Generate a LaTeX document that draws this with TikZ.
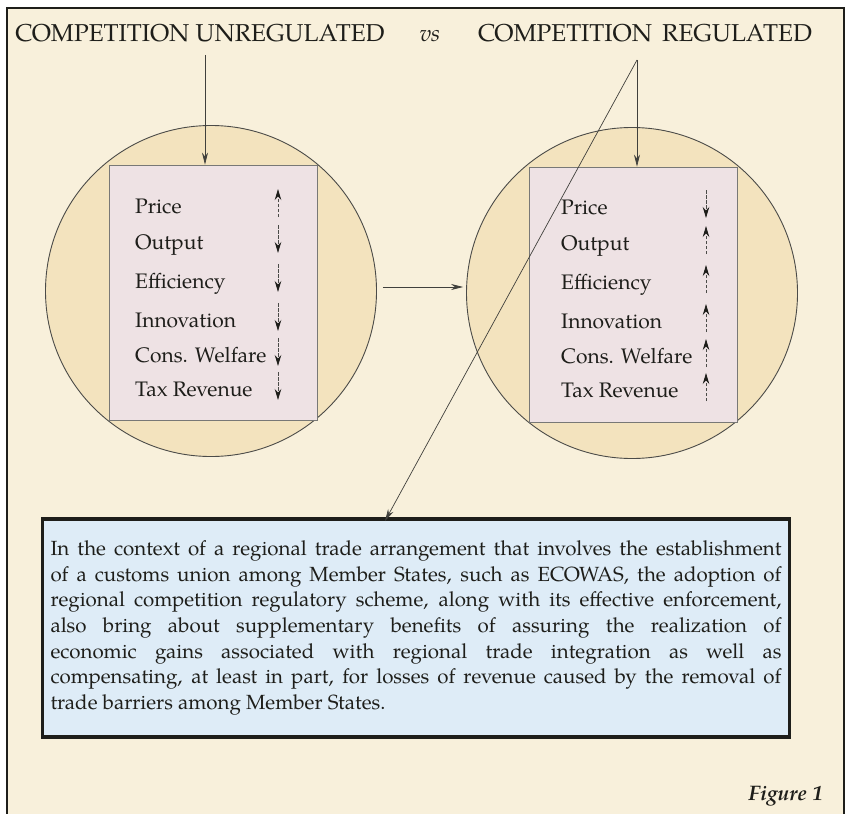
\documentclass[tikz,border=0pt]{standalone}
\usepackage{fontspec}
\setmainfont{TeX Gyre Pagella}
\usetikzlibrary{arrows.meta}

\definecolor{paper}{RGB}{248,240,219}
\definecolor{disc}{RGB}{243,227,190}
\definecolor{panel}{RGB}{238,226,228}
\definecolor{notefill}{RGB}{222,236,247}
\definecolor{ink}{RGB}{30,30,26}

\begin{document}
\begin{tikzpicture}[x=1pt,y=-1pt]
    \tikzstyle{title}=[font=\fontsize{24.4}{28}\selectfont,inner sep=0pt,anchor=base,text=ink]
    \tikzstyle{item}=[font=\fontsize{21}{24}\selectfont,inner sep=0pt,anchor=base west,text=ink]
    \tikzstyle{disc}=[circle,draw=ink!80,line width=0.9pt,fill=disc,minimum size=331pt,inner sep=0pt]
    \tikzstyle{panel}=[draw=ink!60,line width=0.8pt,fill=panel,minimum width=208pt,minimum height=255pt,inner sep=0pt]
    \tikzstyle{note}=[draw=ink,line width=3.2pt,fill=notefill,text=ink,text width=731pt,align=justify,
                      minimum height=218pt,inner sep=8pt,font=\fontsize{20.5}{25.7}\selectfont]

    \useasboundingbox (0,0) rectangle (850,813);
    \clip (0,0) rectangle (850,813);
    \fill[white] (0,0) rectangle (850,813);
    \draw[ink,line width=1.1pt,fill=paper] (7,8) rectangle (844,830);

    \node[title] (ltitle) at (200,42) {COMPETITION UNREGULATED};
    \node[title,font=\fontsize{23}{26}\selectfont\itshape] (vs) at (430,42) {vs};
    \node[title] (rtitle) at (645,42) {COMPETITION\, REGULATED};

    \node[disc]  (lcirc) at (211,291) {};
    \node[disc]  (rcirc) at (632,293) {};
    \node[panel] (lbox) at (213,292.5) {};
    \node[panel] (rbox) at (633.5,294.5) {};

    \node[note] (note) at (416,628) {In the context of a regional trade arrangement that involves the establishment\linebreak
      of a customs union among Member States, such as ECOWAS, the adoption of\linebreak
      regional competition regulatory scheme, along with its effective enforcement,\linebreak
      also bring about supplementary benefits of assuring the realization of\linebreak
      economic gains associated with regional trade integration as well as\linebreak
      compensating, at least in part, for losses of revenue caused by the removal of\linebreak
      trade barriers among Member States.};

    \node[font=\fontsize{21}{24}\selectfont\bfseries\itshape,text=ink,anchor=base east,inner sep=0pt] (fig) at (823,800) {Figure 1};

    % items with their up / down marks
    \tikzstyle{trend}=[ink!80,line width=0.8pt,dash pattern=on 3.5pt off 1.5pt,
                       -{Stealth[length=11pt,width=6.5pt,color=ink]}]
    \foreach \nm/\txt/\y/\l/\r in {price/Price/213/-1/1,output/Output/249/1/-1,
                                  eff/Efficiency/288/1/-1,innov/Innovation/327/1/-1,
                                  welf/Cons. Welfare/362/1/-1,tax/Tax Revenue/396/1/-1}{
      \node[item] (l\nm) at (135,\y) {\txt};
      \node[item] (r\nm) at (561,\y+1) {\txt};
      \draw[trend] (278,\y-10-14*\l) -- (278,\y-10+14*\l);
      \draw[trend] (706,\y-9-14*\r) -- (706,\y-9+14*\r);
    }

    % connectors
    \tikzstyle{fwd}=[draw=ink!85,line width=0.7pt,-{Stealth[length=12pt,width=6pt]}]
    \coordinate (ltop) at (205,55);
    \coordinate (rtop) at (637,60);
    \coordinate (nin) at (385,521);
    \path (lcirc.east) ++(6,-4) coordinate (hl);
    \draw [fwd] (ltop) -- (ltop |- lbox.north);
    \draw [fwd] (rtop) -- (rtop |- rbox.north);
    \draw [fwd] (rtop) -- (nin);
    \draw [fwd,shorten >=3pt] (hl) -- (hl -| rcirc.west);
\end{tikzpicture}
\end{document}
